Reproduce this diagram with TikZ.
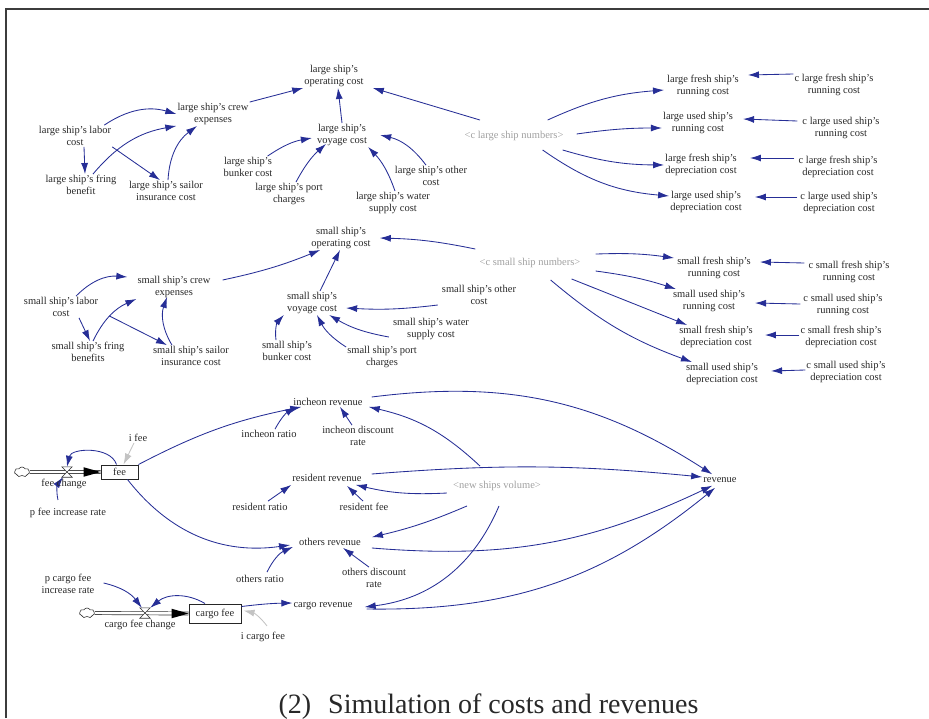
\documentclass[tikz,border=0pt]{standalone}
\usepackage{fontspec}
\setmainfont{Liberation Serif}
\usetikzlibrary{arrows.meta,shapes.symbols}
\definecolor{arc}{RGB}{38,46,150}
\definecolor{txt}{RGB}{40,40,40}
\definecolor{shd}{RGB}{160,160,160}
\definecolor{lgr}{RGB}{195,195,195}
\definecolor{frm}{RGB}{60,60,60}
\begin{document}
\begin{tikzpicture}[x=1pt,y=1pt,
  v/.style={font=\fontsize{10.5}{12}\selectfont, align=center, text=txt, inner sep=1pt},
  sh/.style={v, text=shd},
  ar/.style={draw=arc, line width=0.85pt, -{Latex[length=11pt,width=7pt]}},
  gar/.style={draw=lgr, line width=0.85pt, -{Latex[length=11pt,width=7pt]}},
  stock/.style={draw=black!85, line width=1pt, inner sep=0pt, font=\fontsize{10.5}{12}\selectfont, text=txt},
  valve/.style={rectangle, minimum width=10pt, minimum height=10pt, inner sep=0pt},
  pipe/.style={draw=black!80, line width=0.7pt, double=white, double distance=2.4pt},
  cloudy/.style={cloud, cloud puffs=7, cloud puff arc=120, aspect=1.8, draw=black!80, line width=0.6pt, minimum width=15pt, minimum height=10pt, inner sep=0pt, fill=white},
  vshape/.style={draw=black!80, line width=0.6pt, fill=white},
  flowtip/.style={fill=black}
]
\useasboundingbox (0,0) rectangle (929,-718);
\draw[frm, line width=1.8pt] (5.8,-718) -- (5.8,-8.7) -- (929,-8.7);

% ---------- large ship block
\node[v] (lop) at (334,-76) {large ship's\\operating cost};
\node[v] (lcrew) at (213,-114) {large ship's crew\\expenses};
\node[v] (llab) at (75,-136) {large ship's labor\\cost};
\node[v] (lfring) at (81,-185) {large ship's fring\\benefit};
\node[v] (lsail) at (166,-191) {large ship's sailor\\insurance cost};
\node[v] (lvoy) at (342,-135) {large ship's\\voyage cost};
\node[v] (lbunk) at (248,-167) {large ship's\\bunker cost};
\node[v] (lport) at (289,-194) {large ship's port\\charges};
\node[v] (lwat) at (393,-203) {large ship's water\\supply cost};
\node[v] (loth) at (431,-176) {large ship's other\\cost};
\node[sh] (lnum) at (514,-136) {<c large ship numbers>};
\node[v] (lfr) at (703,-86) {large fresh ship's\\running cost};
\node[v] (lur) at (698,-123) {large used ship's\\running cost};
\node[v] (lfd) at (701,-165) {large fresh ship's\\depreciation cost};
\node[v] (lud) at (706,-202) {large used ship's\\depreciation cost};
\node[v] (clfr) at (834,-85) {c large fresh ship's\\running cost};
\node[v] (clur) at (841,-128) {c large used ship's\\running cost};
\node[v] (clfd) at (838,-167) {c large fresh ship's\\depreciation cost};
\node[v] (clud) at (839,-203) {c large used ship's\\depreciation cost};

\draw[ar] ([xshift=-8pt]llab.north east) to[bend left=25] (lcrew.west);
\draw[ar] ([xshift=9pt]llab.south) -- ([xshift=4pt]lfring.north);
\draw[ar] (llab.south east) -- ([xshift=-6pt]lsail.north);
\draw[ar] ([xshift=12pt]lfring.north) to[bend left=20] (lcrew.south west);
\draw[ar] ([xshift=2pt]lsail.north) to[bend left=25] ([xshift=-16pt]lcrew.south);
\draw[ar] (lcrew.north east) -- (lop.south west);
\draw[ar] (lvoy.north) -- ([xshift=4pt]lop.south);
\draw[ar] ([xshift=-34pt,yshift=10pt]lnum.north) -- ([xshift=8pt]lop.south east);
\draw[ar] ([xshift=-6pt]lbunk.north east) to[bend left=12] ([xshift=-4pt,yshift=-3pt]lvoy.west);
\draw[ar] ([xshift=7pt]lport.north) to[bend left=10] ([xshift=-16pt,yshift=3pt]lvoy.south);
\draw[ar] ([xshift=2pt]lwat.north) to[bend right=12] (lvoy.south east);
\draw[ar] ([xshift=-5pt]loth.north) to[bend right=20] ([xshift=12pt]lvoy.east);
\draw[ar] ([xshift=-17pt,yshift=10pt]lnum.north east) to[bend left=10] ([xshift=-2pt,yshift=-4pt]lfr.west);
\draw[ar] ([xshift=12pt,yshift=2pt]lnum.east) to[bend left=4] ([yshift=-5pt]lur.west);
\draw[ar] ([xshift=-2pt,yshift=-8pt]lnum.south east) to[bend right=8] (lfd.west);
\draw[ar] ([xshift=-22pt,yshift=-8pt]lnum.south east) to[bend right=15] ([yshift=6pt]lud.west);
\draw[ar] ([yshift=11pt]clfr.west) -- ([xshift=8pt,yshift=11pt]lfr.east);
\draw[ar] ([xshift=-4pt,yshift=7pt]clur.west) -- ([xshift=9pt,yshift=4pt]lur.east);
\draw[ar] ([xshift=-3pt,yshift=9pt]clfd.west) -- ([xshift=12pt,yshift=7pt]lfd.east);
\draw[ar] ([xshift=-2pt,yshift=6pt]clud.west) -- ([xshift=12pt,yshift=5pt]lud.east);

% ---------- small ship block
\node[v] (sop) at (341,-238) {small ship's\\operating cost};
\node[v] (screw) at (174,-287) {small ship's crew\\expenses};
\node[v] (slab) at (61,-307) {small ship's labor\\cost};
\node[v] (sfring) at (88,-352) {small ship's fring\\benefits};
\node[v] (ssail) at (191,-356) {small ship's sailor\\insurance cost};
\node[v] (svoy) at (312,-303) {small ship's\\voyage cost};
\node[v] (sbunk) at (287,-351) {small ship's\\bunker cost};
\node[v] (sport) at (382,-357) {small ship's port\\charges};
\node[v] (swat) at (431,-329) {small ship's water\\supply cost};
\node[v] (soth) at (479,-295) {small ship's other\\cost};
\node[sh] (snum) at (530,-263) {<c small ship numbers>};
\node[v] (sfr) at (714,-268) {small fresh ship's\\running cost};
\node[v] (sur) at (709,-301) {small used ship's\\running cost};
\node[v] (sfd) at (716,-337) {small fresh ship's\\depreciation cost};
\node[v] (sud) at (722,-374) {small used ship's\\depreciation cost};
\node[v] (csfr) at (849,-272) {c small fresh ship's\\running cost};
\node[v] (csur) at (843,-305) {c small used ship's\\running cost};
\node[v] (csfd) at (841,-337) {c small fresh ship's\\depreciation cost};
\node[v] (csud) at (846,-372) {c small used ship's\\depreciation cost};

\draw[ar] ([xshift=15pt]slab.north) to[bend left=25] ([xshift=-9pt,yshift=10pt]screw.west);
\draw[ar] ([xshift=18pt]slab.south) -- ([xshift=2pt]sfring.north);
\draw[ar] ([xshift=5pt]sfring.north) to[bend left=20] (screw.south west);
\draw[ar] ([xshift=10pt,yshift=2pt]slab.south east) -- ([xshift=-24pt]ssail.north);
\draw[ar] ([xshift=-19pt]ssail.north) to[bend left=25] ([xshift=-7pt,yshift=2pt]screw.south);
\draw[ar] ([xshift=11pt,yshift=7pt]screw.east) to[bend right=5] ([xshift=10pt]sop.south west);
\draw[ar] ([xshift=8pt]svoy.north) -- ([xshift=-1pt]sop.south);
\draw[ar] ([xshift=-3pt,yshift=8pt]snum.north west) to[bend right=5] ([xshift=8pt]sop.east);
\draw[ar] ([xshift=-3pt,yshift=-10pt]soth.west) to[bend left=5] ([xshift=8pt,yshift=-5pt]svoy.east);
\draw[ar] ([xshift=-3pt,yshift=-8pt]swat.west) to[bend left=10] ([xshift=-9pt]svoy.south east);
\draw[ar] ([yshift=-2pt]sport.north west) to[bend left=15] ([xshift=5pt]svoy.south);
\draw[ar] ([xshift=-11pt]sbunk.north) to[bend left=25] ([xshift=-2pt]svoy.south west);
\draw[ar] ([xshift=14pt,yshift=3pt]snum.north east) to[bend left=5] ([xshift=-2pt,yshift=10pt]sfr.west);
\draw[ar] ([xshift=14pt,yshift=-8pt]snum.east) to[bend left=5] ([xshift=4pt]sur.north west);
\draw[ar] ([xshift=-10pt,yshift=-10pt]snum.south east) -- ([xshift=9pt]sfd.north west);
\draw[ar] ([xshift=-31pt,yshift=-11pt]snum.south east) to[bend right=10] ([xshift=7pt]sud.north west);
\draw[ar] ([xshift=-3pt,yshift=9pt]csfr.west) -- ([xshift=8pt,yshift=6pt]sfr.east);
\draw[ar] ([xshift=-2pt,yshift=1pt]csur.west) -- ([xshift=9pt,yshift=-2pt]sur.east);
\draw[ar] ([yshift=2pt]csfd.west) -- ([xshift=11pt,yshift=2pt]sfd.east);
\draw[ar] ([yshift=2pt]csud.west) -- ([xshift=12pt,yshift=3pt]sud.east);

% ---------- revenue block
\node[v] (inch) at (328,-402) {incheon revenue};
\node[v] (iratio) at (269,-434) {incheon ratio};
\node[v] (idisc) at (358,-436) {incheon discount\\rate};
\node[v] (ifee) at (138,-438) {i fee};
\node[cloudy] (cl1) at (22,-472) {};
\node[stock, minimum width=37pt, minimum height=14pt] (fee) at (119.5,-472) {fee};
\node[valve] (fv) at (67,-472) {};
\node[v] (pfee) at (68,-513) {p fee increase rate};
\node[v] (res) at (327,-478) {resident revenue};
\node[v] (rratio) at (260,-507) {resident ratio};
\node[v] (rfee) at (364,-507) {resident fee};
\node[sh] (newv) at (497,-486) {<new ships volume>};
\node[v] (rev) at (720,-480) {revenue};
\node[v] (oth) at (330,-542) {others revenue};
\node[v] (oratio) at (260,-579) {others ratio};
\node[v] (odisc) at (374,-578) {others discount\\rate};
\node[v] (pcargo) at (68,-584) {p cargo fee\\increase rate};
\node[cloudy] (cl2) at (87,-613) {};
\node[stock, minimum width=52pt, minimum height=19pt] (cfee) at (215,-613.5) {cargo fee};
\node[valve] (cfv) at (145,-613) {};
\node[v] (crev) at (323,-606) {cargo revenue};
\node[v] (icargo) at (263,-637) {i cargo fee};

% flows (pipes)
\draw[pipe] (cl1.east) -- (fee.west);
\fill[flowtip] (fee.west) -- ++(-17,4.8) -- ++(0,-9.6) -- cycle;
\draw[vshape] (fv.north west) -- (fv.north east) -- (fv.south west) -- (fv.south east) -- cycle;
\draw[pipe] (cl2.east) -- (cfee.west);
\fill[flowtip] (cfee.west) -- ++(-17,4.8) -- ++(0,-9.6) -- cycle;
\draw[vshape] (cfv.north west) -- (cfv.north east) -- (cfv.south west) -- (cfv.south east) -- cycle;

\draw[ar] (fee.north east) to[bend left=8] ([xshift=9pt]inch.south west);
\draw[ar] ([xshift=6pt]iratio.north) to[bend left=15] ([xshift=-32pt]inch.south);
\draw[ar] ([xshift=-6pt]idisc.north) -- ([xshift=12pt]inch.south);
\draw[gar] ([xshift=-4pt]ifee.south) -- ([xshift=4pt]fee.north);
\draw[ar] ([xshift=-3pt]fee.north) to[bend right=75] (fv.north);
\draw[ar] ([xshift=-10pt,yshift=7pt]pfee.north) to[bend left=25] ([xshift=-4pt]fv.south);
\draw[ar] ([xshift=8pt]fee.south) to[bend right=30] ([xshift=-8pt,yshift=-3pt]oth.west);
\draw[ar] ([xshift=-17pt,yshift=14pt]newv.north) to[bend right=15] ([xshift=5pt]inch.south east);
\draw[ar] ([xshift=8pt,yshift=5pt]inch.east) to[bend left=20] ([xshift=10pt,yshift=2pt]rev.north west);
\draw[ar] ([xshift=9pt,yshift=4pt]res.east) to[bend left=5] ([yshift=3pt]rev.west);
\draw[ar] ([xshift=-5pt,yshift=-7pt]newv.west) to[bend left=8] ([xshift=-7pt,yshift=-2pt]res.south east);
\draw[ar] ([xshift=8pt,yshift=1pt]rratio.north) -- ([yshift=-2pt]res.south west);
\draw[ar] ([xshift=-1pt,yshift=1pt]rfee.north) -- ([xshift=20pt,yshift=-3pt]res.south);
\draw[ar] ([xshift=-30pt,yshift=-14pt]newv.south) to[bend left=5] ([xshift=10pt]oth.north east);
\draw[ar] ([xshift=-5pt]odisc.north) -- ([xshift=13pt,yshift=-1pt]oth.south);
\draw[ar] ([xshift=7pt,yshift=2pt]oratio.north) to[bend left=20] ([xshift=-5pt]oth.south west);
\draw[ar] ([xshift=10pt,yshift=-6pt]oth.east) to[bend right=15] ([xshift=10pt,yshift=-2pt]rev.south west);
\draw[ar] ([xshift=2pt,yshift=-14pt]newv.south) to[bend left=30] ([xshift=11pt,yshift=-1pt]crev.east);
\draw[ar] ([xshift=13pt,yshift=-3pt]crev.east) to[bend right=20] ([xshift=13pt,yshift=-4pt]rev.south west);
\draw[ar] ([yshift=-3pt]cfee.north east) to[bend left=3] ([yshift=3pt]crev.west);
\draw[gar] ([xshift=4pt,yshift=5pt]icargo.north) to[bend right=20] ([xshift=2pt,yshift=3pt]cfee.east);
\draw[ar] ([xshift=-10pt]cfee.north) to[bend right=35] (cfv.north east);
\draw[ar] ([xshift=8pt,yshift=1pt]pcargo.east) to[bend left=20] ([xshift=2pt]cfv.north west);

\node[v] (fvl) at (64,-484) {fee change};
\node[v] (cfvl) at (140,-625) {cargo fee change};

\node[font=\fontsize{28}{30}\selectfont, text=txt, anchor=base, inner sep=0pt] (cap) at (488.5,-713) {(2)\hspace{17pt}Simulation of costs and revenues};
\end{tikzpicture}
\end{document}
